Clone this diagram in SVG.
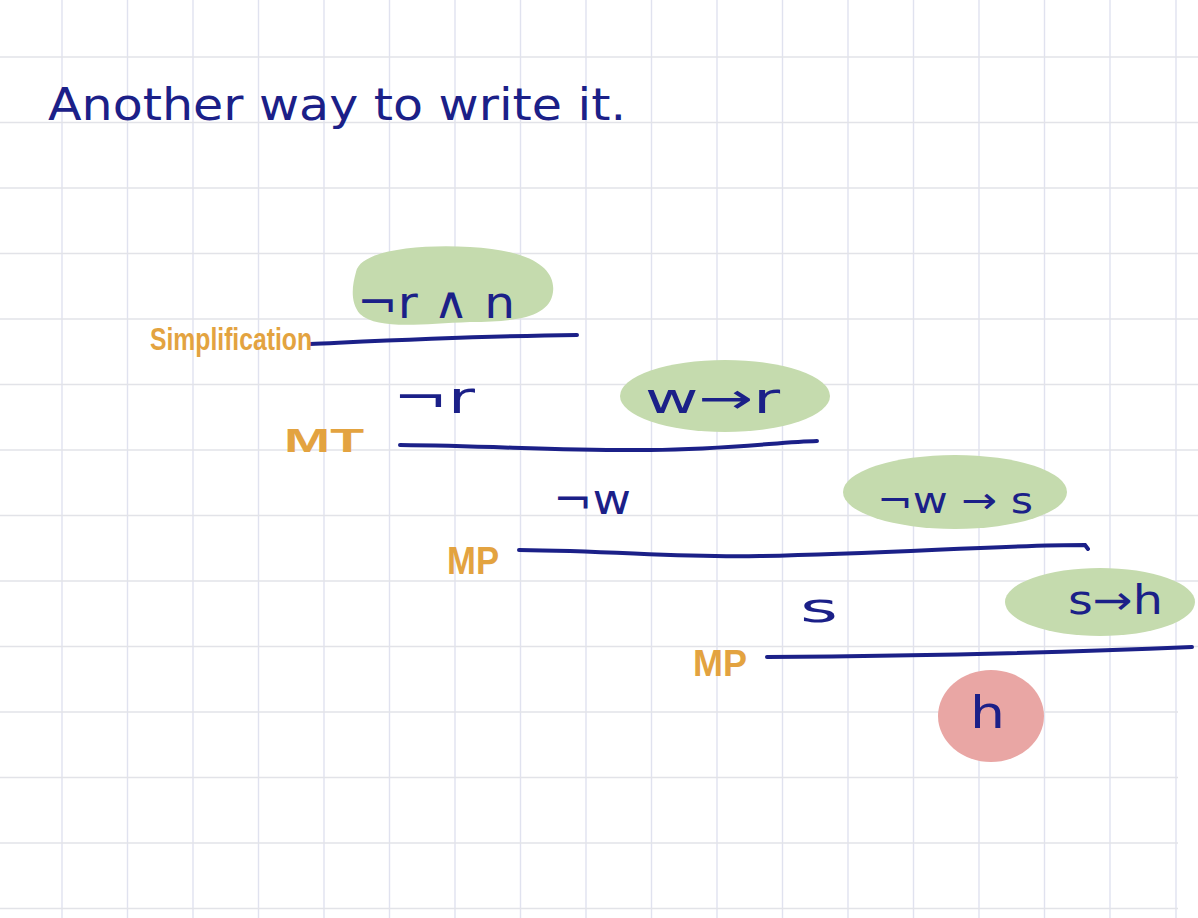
<svg xmlns="http://www.w3.org/2000/svg" width="1198" height="918" viewBox="0 0 1198 918">
<style>
.gv{stroke:#e0e2ef;stroke-width:1.4}
.gh{stroke:#e2e3e8;stroke-width:1.4}
.ink{font-family:"DejaVu Sans","Liberation Sans",sans-serif;fill:#1b2088}
.lbl{font-family:"Liberation Sans Narrow","Liberation Sans",sans-serif;fill:#e3a340;font-weight:bold}
.rule{fill:none;stroke:#1b2088;stroke-width:4;stroke-linecap:round}
.green{fill:#c5dbae}
.red{fill:#e9a6a4}
</style>
<rect width="1198" height="918" fill="#ffffff"/>
<g id="grid">
<line class="gv" x1="62" y1="0" x2="62" y2="918"/>
<line class="gv" x1="127.5" y1="0" x2="127.5" y2="918"/>
<line class="gv" x1="193" y1="0" x2="193" y2="918"/>
<line class="gv" x1="258.5" y1="0" x2="258.5" y2="918"/>
<line class="gv" x1="324" y1="0" x2="324" y2="918"/>
<line class="gv" x1="389.5" y1="0" x2="389.5" y2="918"/>
<line class="gv" x1="455" y1="0" x2="455" y2="918"/>
<line class="gv" x1="520.5" y1="0" x2="520.5" y2="918"/>
<line class="gv" x1="586" y1="0" x2="586" y2="918"/>
<line class="gv" x1="651.5" y1="0" x2="651.5" y2="918"/>
<line class="gv" x1="717" y1="0" x2="717" y2="918"/>
<line class="gv" x1="782.5" y1="0" x2="782.5" y2="918"/>
<line class="gv" x1="848" y1="0" x2="848" y2="918"/>
<line class="gv" x1="913.5" y1="0" x2="913.5" y2="918"/>
<line class="gv" x1="979" y1="0" x2="979" y2="918"/>
<line class="gv" x1="1044.5" y1="0" x2="1044.5" y2="918"/>
<line class="gv" x1="1110" y1="0" x2="1110" y2="918"/>
<line class="gv" x1="1176" y1="0" x2="1176" y2="918"/>
<line class="gh" x1="0" y1="57" x2="1198" y2="57"/>
<line class="gh" x1="0" y1="122.5" x2="1198" y2="122.5"/>
<line class="gh" x1="0" y1="188" x2="1198" y2="188"/>
<line class="gh" x1="0" y1="253.5" x2="1198" y2="253.5"/>
<line class="gh" x1="0" y1="319" x2="1198" y2="319"/>
<line class="gh" x1="0" y1="384.5" x2="1198" y2="384.5"/>
<line class="gh" x1="0" y1="450" x2="1198" y2="450"/>
<line class="gh" x1="0" y1="515.5" x2="1198" y2="515.5"/>
<line class="gh" x1="0" y1="581" x2="1198" y2="581"/>
<line class="gh" x1="0" y1="646.5" x2="1198" y2="646.5"/>
<line class="gh" x1="0" y1="712" x2="1178" y2="712"/>
<line class="gh" x1="0" y1="777.5" x2="1178" y2="777.5"/>
<line class="gh" x1="0" y1="843" x2="1178" y2="843"/>
<line class="gh" x1="0" y1="908.5" x2="1178" y2="908.5"/>
</g>
<g id="title">
<text class="ink" x="48" y="120" font-size="44" textLength="578" lengthAdjust="spacingAndGlyphs">Another way to write it.</text>
</g>
<g id="blobs">
<path id="blob1" class="green" d="M356,272 C360,250 420,244 470,247 C530,250 556,268 553,292 C550,316 520,322 470,322 C420,324 378,330 360,314 C350,302 352,286 356,272 Z"/>
<ellipse id="blob2" class="green" cx="725" cy="396" rx="105" ry="36"/>
<ellipse id="blob3" class="green" cx="955" cy="492" rx="112" ry="37"/>
<ellipse id="blob4" class="green" cx="1100" cy="602" rx="95" ry="34"/>
<ellipse id="blob5" class="red" cx="991" cy="716" rx="53" ry="46"/>
</g>
<g id="connectors">
<path class="rule" d="M310,344 C400,340 480,336 577,335"/>
<path class="rule" d="M400,445 C500,446 560,451 650,450 C730,449 780,442 817,441"/>
<path class="rule" d="M519,550 C620,551 680,558 760,556 C900,553 1000,545 1085,545 L1088,549"/>
<path class="rule" d="M767,657 C900,656 1050,653 1192,647"/>
</g>
<g id="premise1"><text class="ink" x="357" y="318" font-size="44" textLength="158" lengthAdjust="spacingAndGlyphs">¬r ∧ n</text></g>
<g id="step-not-r"><text class="ink" x="393" y="413" font-size="44" textLength="82" lengthAdjust="spacingAndGlyphs">¬r</text></g>
<g id="premise2"><text class="ink" x="645" y="413" font-size="42" textLength="135" lengthAdjust="spacingAndGlyphs">w→r</text></g>
<g id="step-not-w"><text class="ink" x="553" y="514" font-size="42" textLength="78" lengthAdjust="spacingAndGlyphs">¬w</text></g>
<g id="premise3"><text class="ink" x="877" y="513" font-size="36" textLength="156" lengthAdjust="spacingAndGlyphs">¬w → s</text></g>
<g id="step-s"><text class="ink" x="800" y="622" font-size="40" textLength="38" lengthAdjust="spacingAndGlyphs">s</text></g>
<g id="premise4"><text class="ink" x="1068" y="614" font-size="40" textLength="95" lengthAdjust="spacingAndGlyphs">s→h</text></g>
<g id="conclusion"><text class="ink" x="970" y="728" font-size="44" textLength="35" lengthAdjust="spacingAndGlyphs">h</text></g>
<g id="label-simplification"><text class="lbl" x="150" y="350" font-size="32" textLength="162" lengthAdjust="spacingAndGlyphs">Simplification</text></g>
<g id="label-mt"><text class="lbl" x="284" y="452" font-size="34" textLength="80" lengthAdjust="spacingAndGlyphs">MT</text></g>
<g id="label-mp1"><text class="lbl" x="447" y="574" font-size="38" textLength="52" lengthAdjust="spacingAndGlyphs">MP</text></g>
<g id="label-mp2"><text class="lbl" x="693" y="676" font-size="36" textLength="54" lengthAdjust="spacingAndGlyphs">MP</text></g>
</svg>
